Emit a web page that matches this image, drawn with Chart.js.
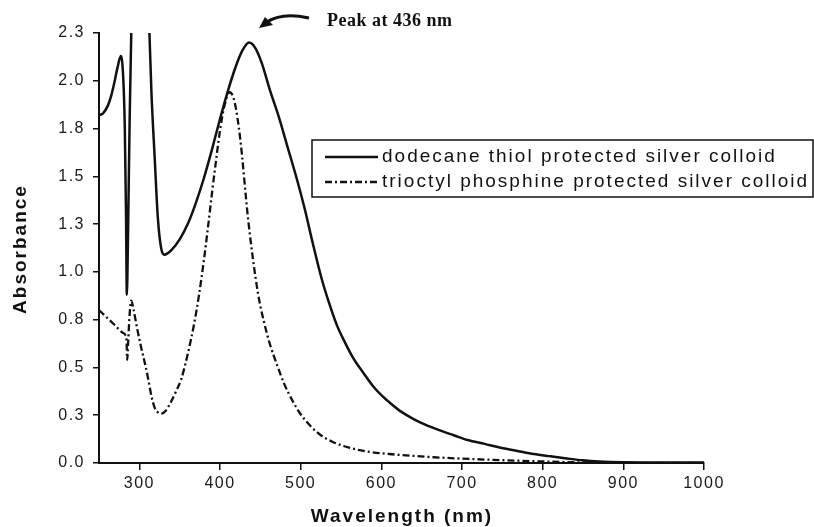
<!DOCTYPE html>
<html>
<head>
<meta charset="utf-8">
<script src="https://cdn.jsdelivr.net/npm/chart.js@4"></script>
<style>
  body { margin: 0; background: #fff; }
</style>
</head>
<body>
<canvas id="c" width="814" height="527"></canvas>
<script>
// wavelengths (nm) and absorbance
const thiolNm = [250, 255, 261, 265, 269, 273, 277, 280, 282, 283.5, 284.5, 286, 288, 290, 292, 300, 308, 312.5, 315, 319, 323, 327, 331, 340, 350, 360, 370, 380, 390, 400, 410, 420, 428, 436, 444, 452, 462, 473, 484, 495, 505, 515, 525, 535, 545, 555, 565, 578, 590, 600, 612, 624, 640, 655, 670, 690, 707, 728, 748, 770, 789, 810, 830, 850, 870, 900, 950, 1000];
const thiolAbs = [1.82, 1.83, 1.87, 1.92, 1.99, 2.07, 2.13, 2.02, 1.75, 1.30, 0.88, 1.20, 1.80, 2.25, 2.6, 2.8, 2.6, 2.25, 1.94, 1.60, 1.28, 1.125, 1.09, 1.115, 1.17, 1.25, 1.36, 1.49, 1.64, 1.80, 1.95, 2.08, 2.16, 2.20, 2.17, 2.09, 1.95, 1.81, 1.65, 1.49, 1.33, 1.15, 0.98, 0.84, 0.72, 0.63, 0.55, 0.47, 0.40, 0.355, 0.31, 0.27, 0.23, 0.20, 0.175, 0.145, 0.12, 0.10, 0.08, 0.062, 0.047, 0.035, 0.024, 0.014, 0.008, 0.004, 0.002, 0.002];

const phosNm = [250, 260, 270, 280, 284, 285, 286, 288, 290, 293, 297, 302, 307, 311, 315, 319, 323, 327, 332, 338, 345, 352, 360, 368, 374, 380, 385, 390, 395, 400, 405, 412, 418, 425, 435, 447, 455, 462, 471, 480, 490, 500, 513, 525, 540, 560, 583, 610, 640, 665, 700, 748, 800, 850, 900, 1000];
const phosAbs = [0.80, 0.76, 0.72, 0.68, 0.65, 0.54, 0.62, 0.78, 0.85, 0.80, 0.71, 0.61, 0.52, 0.44, 0.35, 0.29, 0.265, 0.258, 0.27, 0.31, 0.37, 0.44, 0.57, 0.73, 0.88, 1.06, 1.23, 1.41, 1.58, 1.74, 1.86, 1.94, 1.89, 1.70, 1.27, 0.89, 0.73, 0.62, 0.51, 0.41, 0.325, 0.255, 0.19, 0.145, 0.11, 0.08, 0.06, 0.047, 0.037, 0.03, 0.023, 0.015, 0.008, 0.003, 0.001, 0.0];

const xTicks = [300, 400, 500, 600, 700, 800, 900, 1000];
const yTicks = [0, 0.25, 0.5, 0.75, 1.0, 1.25, 1.5, 1.75, 2.0, 2.25];
const yTickLabels = ['0.0', '0.3', '0.5', '0.8', '1.0', '1.3', '1.5', '1.8', '2.0', '2.3'];

const seriesNames = ['dodecane thiol protected silver colloid', 'trioctyl phosphine protected silver colloid'];
const xTitle = 'Wavelength (nm)';
const yTitle = 'Absorbance';
const peakNote = 'Peak at 436 nm';

const ink = '#111';

function toPoints(xs, ys) {
  return xs.map((x, i) => ({ x: x, y: ys[i] }));
}

// scan-style extras: spaced text, boxed legend, titles, peak arrow
const extras = {
  id: 'extras',
  beforeDraw(chart) {
    chart.ctx.letterSpacing = '1.5px';
  },
  afterDraw(chart) {
    const ctx = chart.ctx;
    ctx.save();
    ctx.fillStyle = ink;
    ctx.strokeStyle = ink;

    // axis titles
    ctx.letterSpacing = '2px';
    ctx.font = 'bold 19px "Liberation Sans"';
    ctx.textAlign = 'center';
    ctx.textBaseline = 'middle';
    ctx.fillText(xTitle, 402, 517);
    ctx.save();
    ctx.translate(21, 249);
    ctx.rotate(-Math.PI / 2);
    ctx.fillText(yTitle, 0, 0);
    ctx.restore();

    // legend box
    ctx.lineWidth = 1.5;
    ctx.strokeRect(312, 140, 501, 57);
    ctx.font = '19px "Liberation Sans"';
    ctx.textAlign = 'left';
    chart.data.datasets.forEach((ds, i) => {
      const y = 157 + i * 25;
      ctx.save();
      ctx.lineWidth = ds.borderWidth;
      ctx.setLineDash(ds.borderDash || []);
      ctx.beginPath();
      ctx.moveTo(325, y);
      ctx.lineTo(378, y);
      ctx.stroke();
      ctx.restore();
      ctx.fillText(ds.label, 382, y);
    });

    // peak note with arrow
    ctx.letterSpacing = '0.5px';
    ctx.font = 'bold 18px "Liberation Serif"';
    ctx.textBaseline = 'alphabetic';
    ctx.fillText(peakNote, 327, 26);
    ctx.lineWidth = 3;
    ctx.beginPath();
    ctx.moveTo(309, 18);
    ctx.quadraticCurveTo(282, 12, 267, 22);
    ctx.stroke();
    ctx.beginPath();
    ctx.moveTo(259, 28);
    ctx.lineTo(265, 17);
    ctx.lineTo(273, 25);
    ctx.closePath();
    ctx.fill();
    ctx.restore();
  }
};

new Chart(document.getElementById('c'), {
  type: 'line',
  data: {
    datasets: [
      {
        label: seriesNames[0],
        data: toPoints(thiolNm, thiolAbs),
        borderColor: ink,
        borderWidth: 2.5,
        pointRadius: 0,
        cubicInterpolationMode: 'monotone'
      },
      {
        label: seriesNames[1],
        data: toPoints(phosNm, phosAbs),
        borderColor: ink,
        borderWidth: 2.3,
        borderDash: [7, 3, 2, 3],
        pointRadius: 0,
        cubicInterpolationMode: 'monotone'
      }
    ]
  },
  options: {
    responsive: false,
    animation: false,
    layout: { padding: { top: 33, right: 110, left: 0, bottom: 0 } },
    plugins: {
      legend: { display: false },
      tooltip: { enabled: false }
    },
    scales: {
      x: {
        type: 'linear',
        min: 250,
        max: 1000,
        afterBuildTicks: (scale) => { scale.ticks = xTicks.map(v => ({ value: v })); },
        afterFit: (scale) => { scale.height = 64; },
        grid: { drawOnChartArea: false, tickLength: 7, color: ink, lineWidth: 1.5 },
        border: { color: ink, width: 2 },
        ticks: {
          color: '#1a1a1a',
          padding: 4,
          maxRotation: 0,
          font: { family: 'Liberation Sans', size: 16 },
          callback: (v) => String(v)
        }
      },
      y: {
        min: 0,
        max: 2.25,
        afterBuildTicks: (scale) => { scale.ticks = yTicks.map(v => ({ value: v })); },
        afterFit: (scale) => { scale.width = 99; },
        grid: { drawOnChartArea: false, tickLength: 6, color: ink, lineWidth: 1.5 },
        border: { color: ink, width: 2 },
        ticks: {
          color: '#1a1a1a',
          padding: 8,
          font: { family: 'Liberation Sans', size: 16 },
          callback: (v, i) => yTickLabels[i]
        }
      }
    }
  },
  plugins: [extras]
});
</script>
</body>
</html>
